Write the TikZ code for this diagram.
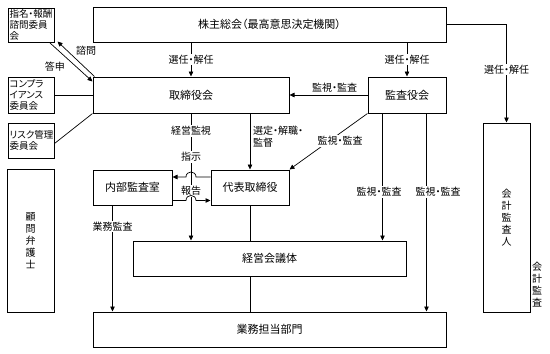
\documentclass[tikz,border=0pt]{standalone}
\usepackage{fontspec}
\setmainfont{Noto Sans CJK JP}[RawFeature={+palt}]
\usetikzlibrary{arrows.meta,calc}
\begin{document}
\begin{tikzpicture}[x=1pt,y=-1pt,
  box/.style={draw, line width=1pt, inner sep=0pt, font=\fontsize{11}{13}\selectfont},
  sbox/.style={draw, line width=1pt, inner xsep=1.5pt, inner ysep=0pt, text width=43pt, minimum width=46pt, align=left, font=\fontsize{9.5}{11}\selectfont},
  vbox/.style={box, align=center, font=\fontsize{10}{12}\selectfont},
  vtext/.style={inner sep=0pt, align=center, font=\fontsize{10}{12}\selectfont},
  lbl/.style={fill=white, inner sep=1pt, font=\fontsize{10}{12}\selectfont},
  con/.style={line width=0.7pt},
  arr/.style={con, -{Triangle[length=5pt,width=4.5pt]}},
]
\useasboundingbox (0,0) rectangle (550,354);

% boxes
\node[box, minimum width=353pt, minimum height=35pt] (soukai) at (269.5,24.5) {株主総会（最高意思決定機関）};
\node[box, minimum width=196pt, minimum height=36pt] (tori) at (191,95) {取締役会};
\node[box, minimum width=78pt, minimum height=36pt] (kansa) at (407,95) {監査役会};
\node[box, minimum width=78pt, minimum height=35pt] (daihyo) at (250,187.5) {代表取締役};
\node[box, minimum width=79pt, minimum height=35pt] (naibu) at (132.5,187.5) {内部監査室};
\node[box, minimum width=273pt, minimum height=35pt] (keiei) at (269.5,258.5) {経営会議体};
\node[box, minimum width=353pt, minimum height=35pt] (gyomu) at (269.5,329.5) {業務担当部門};
\node[vbox, minimum width=47pt, minimum height=189pt] (kaikei) at (506.5,217.5) {会\\計\\監\\査\\人};
\node[vbox, minimum width=47pt, minimum height=143pt] (komon) at (30.5,240.5) {顧\\問\\弁\\護\\士};
\node[sbox, minimum height=34pt] (shimei) at (31,25) {指名・報酬\\諮問委員\\会};
\node[sbox, minimum height=36pt] (compra) at (31,95) {コンプラ\\イアンス\\委員会};
\node[sbox, minimum height=35pt] (risk) at (31,140.5) {リスク管理\\委員会};
\node[vtext] (kaikeikansa) at (537,285) {会\\計\\監\\査};

% shareholders
\draw[arr] (soukai.south -| tori.north) -- node[lbl] (l1) {選任・解任} (tori.north);
\draw[arr] (soukai.south -| kansa.north) -- node[lbl] (l2) {選任・解任} (kansa.north);
\draw[arr] (soukai.east) -| node[lbl, pos=0.73] (l3) {選任・解任} (kaikei.north);

% kansa
\draw[arr] (kansa.west) -- node[lbl, fill=none, pos=0.42, above=1pt] (l4) {監視・監査} (tori.east);
\draw[arr] (kansa.south west) -- (daihyo.north east);
\node[lbl] (l5) at (340,141) {監視・監査};
\coordinate (k1) at ($(kansa.south west)+(15,0)$);
\coordinate (k2) at ($(kansa.south west)+(59,0)$);
\draw[arr] (k1) -- (k1 |- keiei.north);
\draw[arr] (k2) -- (k2 |- gyomu.north);
\node[lbl] (l6) at (379,192) {監視・監査};
\node[lbl] (l7) at (438,192) {監視・監査};

% board to representative
\draw[arr] (daihyo.north |- tori.south) -- (daihyo.north);
\node[lbl, fill=none, anchor=west, align=left] (l8) at (252,137) {選定・解職・\\監督};

% management line
\draw[arr] (tori.south) -- (tori.south |- keiei.north);
\node[lbl] (l9) at (191,131) {経営監視};
\node[lbl] (l10) at (191,157) {指示};
\node[lbl] (l11) at (191,191) {報告};

% report arrows with hops
\draw[arr] ($(daihyo.west)+(0,-10.5)$) -- (196,177) .. controls (196,170.3) and (186,170.3) .. (186,177) -- ($(naibu.east)+(0,-10.5)$);
\draw[arr] ($(naibu.east)+(0,13)$) -- (186,200.5) .. controls (186,193.8) and (196,193.8) .. (196,200.5) -- ($(daihyo.west)+(0,13)$);

% internal audit
\coordinate (nb) at ($(naibu.south west)+(20,0)$);
\draw[arr] (nb) -- node[lbl, pos=0.2] (l12) {業務監査} (nb |- gyomu.north);

% vertical connections
\draw[con] (daihyo.south) -- (daihyo.south |- keiei.north);
\draw[con] (daihyo.south |- keiei.south) -- (daihyo.south |- gyomu.north);

% left committees
\draw[con] (compra.east) -- (compra.east -| tori.west);
\draw[con] ($(risk.east)+(0,3)$) -- (tori.south west);
\draw[arr] ($(shimei.south east)+(-5,0)$) -- ($(tori.north west)+(0,5)$);
\draw[arr] ($(tori.north west)+(2,0)$) -- ($(shimei.south east)+(3,-1)$);
\node[lbl, fill=none] (l13) at (86,51) {諮問};
\node[lbl, fill=none] (l14) at (55,67) {答申};
\end{tikzpicture}
\end{document}
